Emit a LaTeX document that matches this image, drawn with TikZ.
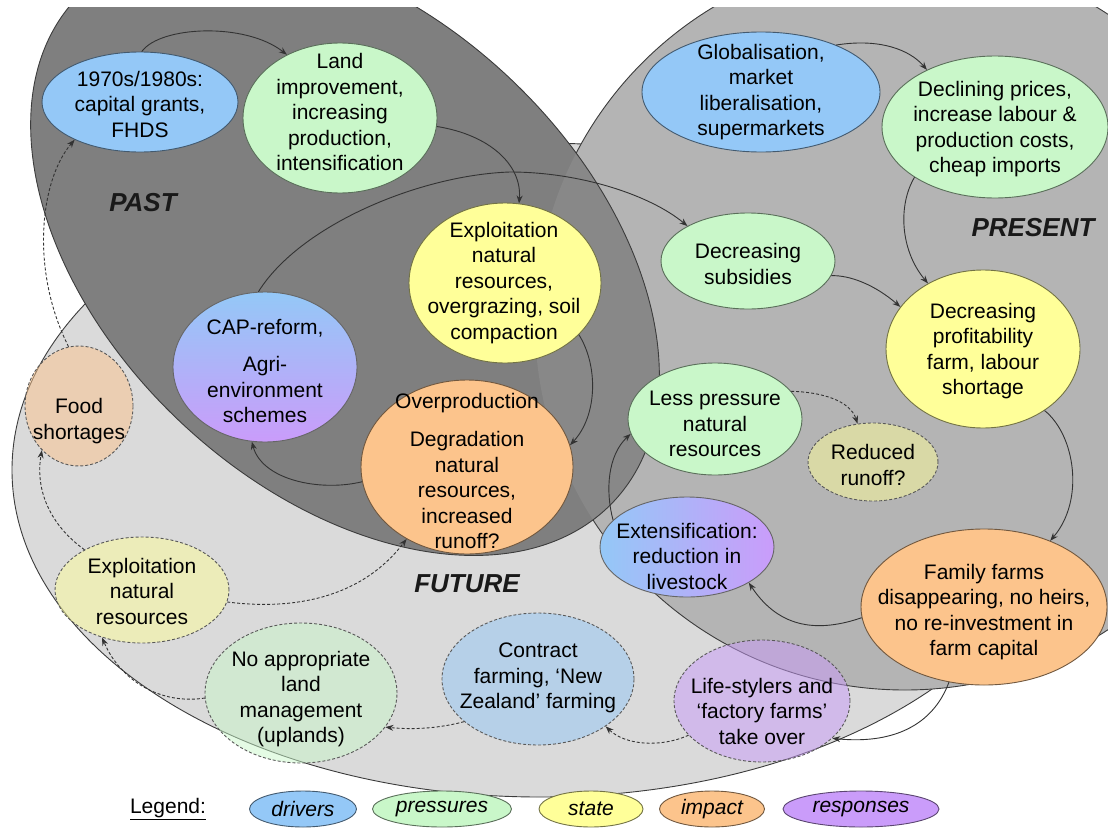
\documentclass[tikz,border=0pt]{standalone}
\usepackage{fontspec}
\setmainfont{Liberation Sans}
\usetikzlibrary{arrows.meta,shapes.geometric}

% DPSIR category colours
\definecolor{cdrv}{HTML}{94C8F7}
\definecolor{cpre}{HTML}{C9F7C9}
\definecolor{csta}{HTML}{FFFF99}
\definecolor{cimp}{HTML}{FCC48C}
\definecolor{cres}{HTML}{CA9CFA}
% era backgrounds
\definecolor{cpast}{HTML}{7F7F7F}
\definecolor{cband}{HTML}{888888}
\definecolor{cpres}{HTML}{B4B4B4}
\definecolor{cfut}{HTML}{DADADA}
\definecolor{cline}{HTML}{3C3C3C}
\definecolor{carrow}{HTML}{333333}

\newcommand\nodefont{\fontsize{21}{25.5}\selectfont}
\newcommand\erafont{\fontsize{26}{30}\selectfont\bfseries\itshape}

\tikzset{
  blob/.style={ellipse, inner sep=0pt, line width=0.9pt},
  solidblob/.style={blob, fill=#1, draw=#1!45!black},
  dashblob/.style={blob, fill=#1, fill opacity=0.5, draw=black!65,
                   dash pattern=on 3pt off 2pt},
  txt/.style={align=center, font=\nodefont, inner sep=0pt, text=black},
  eralabel/.style={font=\erafont, inner sep=0pt, text=black!90},
  legblob/.style={solidblob=#1, minimum height=36pt, font=\nodefont\itshape},
  arr/.style={draw=carrow, line width=0.9pt, -{Stealth[length=8pt,width=6pt]}},
  darr/.style={arr, dash pattern=on 3pt off 2pt},
  pastshape/.style={rotate around={-43:(345,250)}},
}

\begin{document}
\begin{tikzpicture}[x=1pt,y=-1pt]
\useasboundingbox (0,0) rectangle (1108,827);

% ---- era backgrounds: future, present, past ----
\begin{scope}
  \clip (0,7) rectangle (1108,827);
  \path[fill=cfut, draw=cline, line width=0.9pt]
    (540,470) ellipse [x radius=528, y radius=327];
  \path[fill=cpres, draw=cline, line width=0.9pt]
    (905,322) ellipse [x radius=370, y radius=368];
  \path[fill=cpast, pastshape]
    (345,250) ellipse [x radius=368, y radius=238];
  \begin{scope}
    \clip (905,322) ellipse [x radius=370, y radius=368];
    \path[fill=cband, pastshape]
      (345,250) ellipse [x radius=368, y radius=238];
  \end{scope}
  \path[draw=cline, line width=0.9pt, pastshape]
    (345,250) ellipse [x radius=368, y radius=238];
\end{scope}

\node[eralabel] (pastlbl) at (143,203) {PAST};
\node[eralabel] (preslbl) at (1033,228) {PRESENT};
\node[eralabel] (futlbl) at (467,584) {FUTURE};

% ---- past ----
\node[solidblob=cdrv, minimum width=196pt, minimum height=100pt] (n70) at (140,102) {};
\node[txt] (n70t) at (140,104) {1970s/1980s:\\capital grants,\\FHDS};
\node[solidblob=cpre, minimum width=194pt, minimum height=150pt] (land) at (340,118) {};
\node[txt] (landt) at (340,112) {Land\\improvement,\\increasing\\production,\\intensification};
\node[solidblob=csta, minimum width=192pt, minimum height=160pt] (expl) at (505,283) {};
\node[txt] (explt) at (504,283) {Exploitation\\natural\\resources,\\overgrazing, soil\\compaction};
\node[blob, top color=cdrv, bottom color=cres, draw=black!60, minimum width=184pt, minimum height=150pt] (cap) at (265,367) {};
\node[txt] (capt) at (265,371) {CAP-reform,\\[12pt]Agri-\\environment\\schemes};
\node[solidblob=cimp, minimum width=212pt, minimum height=174pt] (over) at (467,467) {};
\node[txt] (overt) at (467,471) {Overproduction\\[13pt]Degradation\\natural\\resources,\\increased\\runoff?};

% ---- present ----
\node[solidblob=cdrv, minimum width=238pt, minimum height=120pt] (glob) at (761,92) {};
\node[txt] (globt) at (761,92) {Globalisation,\\market\\liberalisation,\\supermarkets};
\node[solidblob=cpre, minimum width=226pt, minimum height=142pt] (decl) at (995,127) {};
\node[txt] (declt) at (995,129) {Declining prices,\\increase labour \&\\production costs,\\cheap imports};
\node[solidblob=cpre, minimum width=174pt, minimum height=96pt] (subs) at (748,261) {};
\node[txt] (subst) at (748,264) {Decreasing\\subsidies};
\node[solidblob=csta, minimum width=194pt, minimum height=158pt] (prof) at (983,349) {};
\node[txt] (proft) at (983,351) {Decreasing\\profitability\\farm, labour\\shortage};
\node[solidblob=cpre, minimum width=174pt, minimum height=112pt] (less) at (715,419) {};
\node[txt] (lesst) at (715,424) {Less pressure\\natural\\resources};
\node[dashblob=csta, minimum width=130pt, minimum height=78pt] (redu) at (873,462) {};
\node[txt] (redut) at (873,465) {Reduced\\runoff?};
\node[blob, left color=cdrv, right color=cres, draw=black!60, minimum width=174pt, minimum height=100pt] (ext) at (687,547) {};
\node[txt] (extt) at (687,556) {Extensification:\\reduction in\\livestock};
\node[solidblob=cimp, minimum width=246pt, minimum height=156pt] (fam) at (984,607) {};
\node[txt] (famt) at (984,612) {Family farms\\disappearing, no heirs,\\no re-investment in\\farm capital};

% ---- future ----
\node[dashblob=cres, minimum width=176pt, minimum height=122pt] (life) at (762,701) {};
\node[txt] (lifet) at (762,711) {Life-stylers and\\‘factory farms’\\take over};
\node[dashblob=cdrv, minimum width=192pt, minimum height=132pt] (cont) at (538,679) {};
\node[txt] (contt) at (538,678) {Contract\\farming, ‘New\\Zealand’ farming};
\node[dashblob=cpre, minimum width=192pt, minimum height=140pt] (noap) at (301,693) {};
\node[txt] (noapt) at (301,699) {No appropriate\\land\\management\\(uplands)};
\node[dashblob=csta, minimum width=174pt, minimum height=106pt] (expf) at (142,590) {};
\node[txt] (expft) at (142,591) {Exploitation\\natural\\resources};
\node[dashblob=cimp, minimum width=108pt, minimum height=120pt] (food) at (79,406) {};
\node[txt] (foodt) at (79,421) {Food\\shortages};

% ---- solid links ----
\draw[arr] (n70.88) .. controls (160,26) and (245,22) .. (land.130);
\draw[arr] (land.-5) .. controls (490,135) and (522,165) .. (expl.80);
\draw[arr] (cap.95) .. controls (300,225) and (420,175) .. (510,172)
                    .. controls (580,172) and (650,195) .. (subs.150);
\draw[arr] (expl.-35) .. controls (598,365) and (598,415) .. (over.12);
\draw[arr] (over.188) .. controls (320,492) and (262,480) .. (cap.-100);
\draw[arr] (glob.32) .. controls (880,38) and (910,50) .. (decl.140);
\draw[arr] (decl.-148) .. controls (898,205) and (900,250) .. (prof.130);
\draw[arr] (subs.-10) .. controls (850,275) and (875,285) .. (prof.153);
\draw[arr] (prof.-45) .. controls (1075,435) and (1085,500) .. (fam.45);
\draw[arr] (ext.160) .. controls (605,490) and (608,455) .. (less.190);
\draw[arr] (fam.185) .. controls (820,632) and (780,630) .. (ext.-30);
\draw[arr] (fam.-115) .. controls (935,720) and (900,745) .. (life.-28);

% ---- dashed links ----
\draw[darr] (less.20) .. controls (820,392) and (850,400) .. (redu.112);
\draw[darr] (food.100) .. controls (30,270) and (40,180) .. (n70.-150);
\draw[darr] (expf.145) .. controls (50,525) and (35,490) .. (food.-130);
\draw[darr] (expf.-8) .. controls (290,610) and (360,600) .. (over.-130);
\draw[darr] (noap.183) .. controls (160,705) and (120,680) .. (expf.-130);
\draw[darr] (cont.-150) .. controls (440,728) and (415,730) .. (noap.-22);
\draw[darr] (life.205) .. controls (660,748) and (625,745) .. (cont.-35);

% ---- legend ----
\node[font=\nodefont, inner sep=0pt] (legt) at (168,809) {\underline{Legend:}};
\node[legblob=cdrv, minimum width=107pt] (lgdrv) at (303,809) {drivers};
\node[legblob=cpre, minimum width=139pt] (lgpre) at (442,809) {pressures};
\node[legblob=csta, minimum width=104pt] (lgsta) at (591,809) {state};
\node[legblob=cimp, minimum width=105pt] (lgimp) at (712,809) {impact};
\node[legblob=cres, minimum width=156pt] (lgres) at (861,809) {responses};
\end{tikzpicture}
\end{document}
